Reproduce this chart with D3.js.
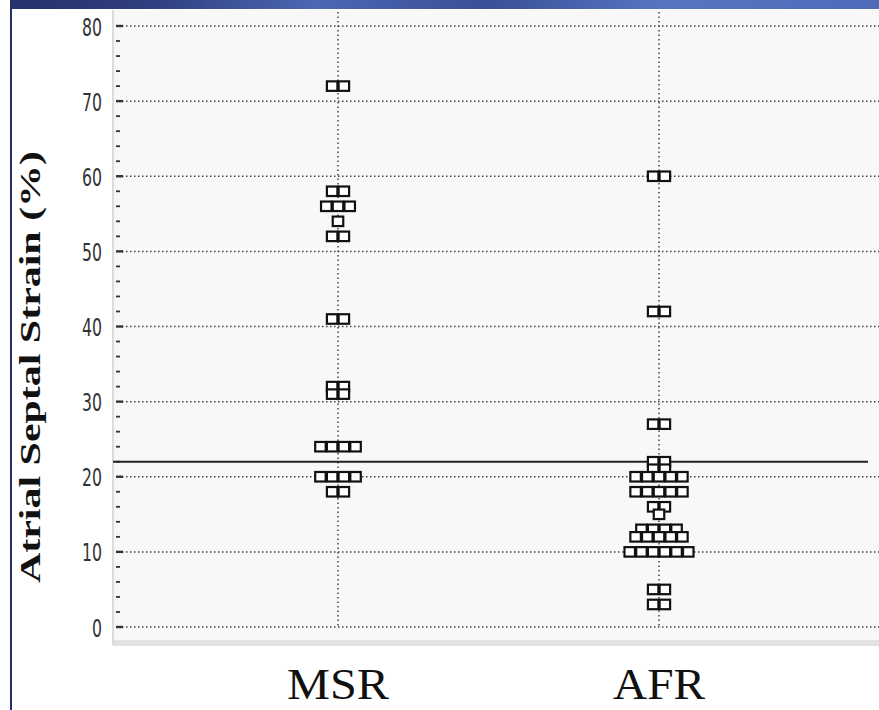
<!DOCTYPE html>
<html>
<head>
<meta charset="utf-8">
<script src="https://cdn.jsdelivr.net/npm/d3@7"></script>
<style>
  html, body { margin: 0; padding: 0; background: #ffffff; }
  svg { display: block; }
</style>
</head>
<body>
<svg id="chart" width="879" height="710"></svg>
<script>
// ---- data ----
const categories = ["MSR", "AFR"];
const msrValues = [72, 72, 58, 58, 56, 56, 56, 54, 52, 52, 41, 41, 32, 32, 31, 31,
                   24, 24, 24, 24, 20, 20, 20, 20, 18, 18];
const afrValues = [60, 60, 42, 42, 27, 27, 22, 22, 21, 21,
                   20, 20, 20, 20, 20, 18, 18, 18, 18, 18, 16, 16, 15,
                   13, 13, 13, 13, 12, 12, 12, 12, 12, 10, 10, 10, 10, 10, 10,
                   5, 5, 3, 3];
const referenceValue = 22;
const yTickValues = [0, 10, 20, 30, 40, 50, 60, 70, 80];
const yMinorTickValues = d3.range(0, 81, 2);
const yTitle = "Atrial Septal Strain (%)";

// ---- layout ----
const svg = d3.select("#chart");
const W = 879, H = 710;
const plotLeft = 113, plotTop = 10, plotBottom = 645;

const y = d3.scaleLinear().domain([0, 80]).range([627, 26]);
const x = d3.scalePoint().domain(categories).range([338, 659]);

// defs: gradient for the top band
const defs = svg.append("defs");
const grad = defs.append("linearGradient").attr("id", "topband").attr("x1", 0).attr("x2", 1).attr("y1", 0).attr("y2", 0);
[[0, "#27316a"], [0.15, "#2f3c7e"], [0.35, "#4c67b3"], [0.55, "#3a4f98"], [0.75, "#5676c2"], [1, "#4d6bb8"]]
  .forEach(([o, c]) => grad.append("stop").attr("offset", o).attr("stop-color", c));

// plot background
svg.append("rect").attr("x", plotLeft).attr("y", plotTop).attr("width", W - plotLeft).attr("height", plotBottom - plotTop)
  .attr("fill", "#f8f8f8");
svg.append("rect").attr("x", plotLeft).attr("y", plotBottom - 5).attr("width", W - plotLeft).attr("height", 6)
  .attr("fill", "#e2e2e2");
// axis line (light)
svg.append("line").attr("x1", plotLeft).attr("x2", plotLeft).attr("y1", plotTop).attr("y2", plotBottom)
  .attr("stroke", "#d0d0d0").attr("stroke-width", 1.5);

// frame: top band and left line
svg.append("rect").attr("x", 10).attr("y", 0).attr("width", W - 10).attr("height", 9).attr("fill", "url(#topband)");
svg.append("rect").attr("x", 10).attr("y", 0).attr("width", 2).attr("height", H).attr("fill", "#28306a");

// horizontal dotted grid
svg.append("g").selectAll("line").data(yTickValues).join("line")
  .attr("x1", 122).attr("x2", W).attr("y1", d => y(d)).attr("y2", d => y(d))
  .attr("stroke", "#444").attr("stroke-width", 1.5).attr("stroke-dasharray", "1.5,2.5");

// vertical dotted grid at categories
svg.append("g").selectAll("line").data(categories).join("line")
  .attr("x1", d => x(d)).attr("x2", d => x(d)).attr("y1", plotTop + 2).attr("y2", y(0))
  .attr("stroke", "#444").attr("stroke-width", 1.5).attr("stroke-dasharray", "1.5,3");

// minor ticks
svg.append("g").selectAll("line").data(yMinorTickValues.filter(v => v % 10 !== 0)).join("line")
  .attr("x1", 116).attr("x2", 120).attr("y1", d => y(d)).attr("y2", d => y(d))
  .attr("stroke", "#333").attr("stroke-width", 1.8);
// major ticks
svg.append("g").selectAll("line").data(yTickValues).join("line")
  .attr("x1", 116).attr("x2", 123).attr("y1", d => y(d)).attr("y2", d => y(d))
  .attr("stroke", "#333").attr("stroke-width", 2.4);

// tick labels via axis
const yAxis = svg.append("g").attr("transform", "translate(102,0)")
  .call(d3.axisLeft(y).tickValues(yTickValues).tickSize(0).tickPadding(0).tickFormat(d3.format("d")));
yAxis.select(".domain").remove();
yAxis.selectAll("text")
  .attr("font-family", "'Liberation Sans Narrow', 'DejaVu Sans Condensed', 'Arial Narrow', sans-serif")
  .attr("font-size", 25).attr("fill", "#333").attr("dy", "0.36em")
  .each(function(d) {
    const t = d3.select(this);
    if (String(d).length === 2) t.attr("textLength", 20).attr("lengthAdjust", "spacingAndGlyphs");
    else t.attr("textLength", 10).attr("lengthAdjust", "spacingAndGlyphs");
  });

// y title
svg.append("text")
  .attr("transform", `translate(40,${367}) rotate(-90)`)
  .attr("text-anchor", "middle")
  .attr("font-family", "'Liberation Serif', 'Times New Roman', serif")
  .attr("font-weight", "bold").attr("font-size", 30).attr("fill", "#111")
  .attr("textLength", 432).attr("lengthAdjust", "spacingAndGlyphs")
  .text(yTitle);

// reference line
svg.append("line").attr("x1", plotLeft).attr("x2", 868).attr("y1", y(referenceValue)).attr("y2", y(referenceValue))
  .attr("stroke", "#222").attr("stroke-width", 2);

// squares
const sqW = 10.5, sqH = 9.5, step = 11.7;
function layout(cat, values) {
  const groups = d3.groups(values, v => v);
  const pts = [];
  groups.forEach(([v, arr]) => {
    const n = arr.length;
    arr.forEach((_, i) => pts.push({ cat, v, off: (i - (n - 1) / 2) * step }));
  });
  return pts;
}
const points = layout("MSR", msrValues).concat(layout("AFR", afrValues));
svg.append("g").selectAll("rect").data(points).join("rect")
  .attr("x", d => x(d.cat) + d.off - sqW / 2)
  .attr("y", d => y(d.v) - sqH / 2)
  .attr("width", sqW).attr("height", sqH)
  .attr("fill", "#ffffff").attr("stroke", "#111").attr("stroke-width", 2.2);

// category labels
svg.append("g").selectAll("text").data(categories).join("text")
  .attr("x", d => x(d)).attr("y", 699)
  .attr("text-anchor", "middle")
  .attr("font-family", "'Liberation Serif', 'Times New Roman', serif")
  .attr("font-size", 44).attr("fill", "#111")
  .attr("textLength", d => d === "MSR" ? 102 : 92).attr("lengthAdjust", "spacingAndGlyphs")
  .text(d => d);
</script>
</body>
</html>
